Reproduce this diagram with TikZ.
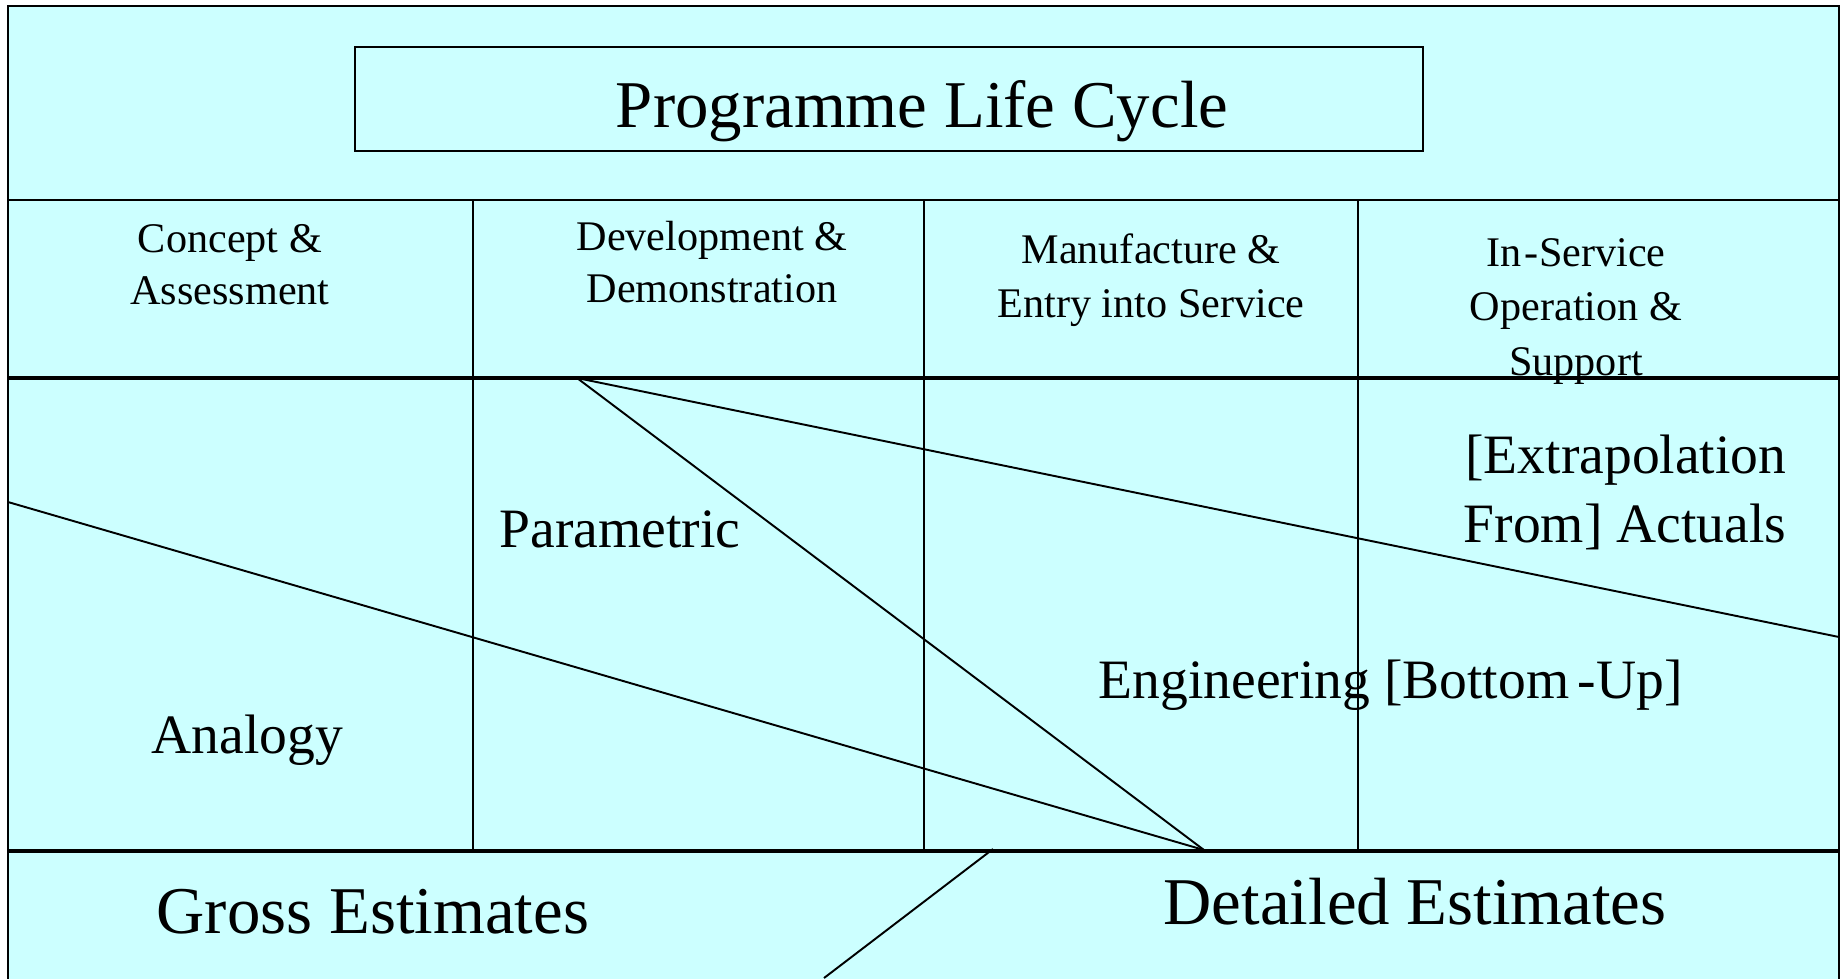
\documentclass[tikz,border=0pt]{standalone}
\usepackage{fontspec}
\setmainfont{Liberation Serif}
\definecolor{bgcyan}{HTML}{CCFFFF}
\begin{document}
\begin{tikzpicture}[x=0.01cm,y=-0.01cm,
  thinline/.style={line width=0.55pt,black},
  thickline/.style={line width=1.25pt,black},
  bigtext/.style={font=\fontsize{19}{23}\selectfont,inner sep=0pt},
  midtext/.style={font=\fontsize{15.8}{19}\selectfont,inner sep=0pt},
  hdrtext/.style={font=\fontsize{12}{15}\selectfont,inner sep=0pt,anchor=base}]
\useasboundingbox (0,0) rectangle (1843,978);
\clip (0,0) rectangle (1843,978);
% background panel
\fill[bgcyan] (8,6) rectangle (1839,990);
\draw[thinline] (8,990) -- (8,6) -- (1839,6) -- (1839,990);
% title box
\draw[thinline] (355,47) rectangle (1423,151);
\node[bigtext,anchor=base] (title) at (922,127) {Programme Life Cycle};
% grid lines
\draw[thinline] (8,200) -- (1839,200);
\draw[thickline] (8,378) -- (1839,378);
\draw[thickline] (8,851) -- (1839,851);
\draw[thinline] (473,200) -- (473,851);
\draw[thinline] (924,200) -- (924,851);
\draw[thinline] (1358,200) -- (1358,851);
% phase headers
\node[hdrtext] (c1a) at (230,252) {Concept \&};
\node[hdrtext] (c1b) at (230,304) {Assessment};
\node[hdrtext] (c2a) at (712,250) {Development \&};
\node[hdrtext] (c2b) at (712,302) {Demonstration};
\node[hdrtext] (c3a) at (1151,263) {Manufacture \&};
\node[hdrtext] (c3b) at (1151,317) {Entry into Service};
\node[hdrtext] (c4a) at (1576,266) {In\kern0.08em-Service};
\node[hdrtext] (c4b) at (1576,320) {Operation \&};
\node[hdrtext] (c4c) at (1576,375) {Support};
% diagonal lines
\coordinate (apex) at (577,378);
\coordinate (foot) at (1204,850);
\coordinate (leftend) at (8,502);
\coordinate (rightend) at (1839,637);
\coordinate (tickA) at (993,849);
\coordinate (tickB) at (824,978);
\draw[thinline] (apex) -- (foot);
\draw[thinline] (apex) -- (rightend);
\draw[thinline] (leftend) -- (foot);
\draw[thinline] (tickA) -- (tickB);
% method labels
\node[midtext,anchor=base west] (param) at (499,547) {Parametric};
\node[midtext,anchor=base west] (analogy) at (151,753) {Analogy};
\node[midtext,anchor=base east] (extra1) at (1787,473) {[Extrapolation};
\node[midtext,anchor=base east] (extra2) at (1787,542) {From] Actuals};
\node[midtext,anchor=base west] (eng) at (1098,698) {Engineering [Bottom\kern0.15em-Up]};
% estimate labels
\node[bigtext,anchor=base west] (gross) at (156,933) {Gross Estimates};
\node[bigtext,anchor=base west] (detailed) at (1163,924) {Detailed Estimates};
\end{tikzpicture}
\end{document}
